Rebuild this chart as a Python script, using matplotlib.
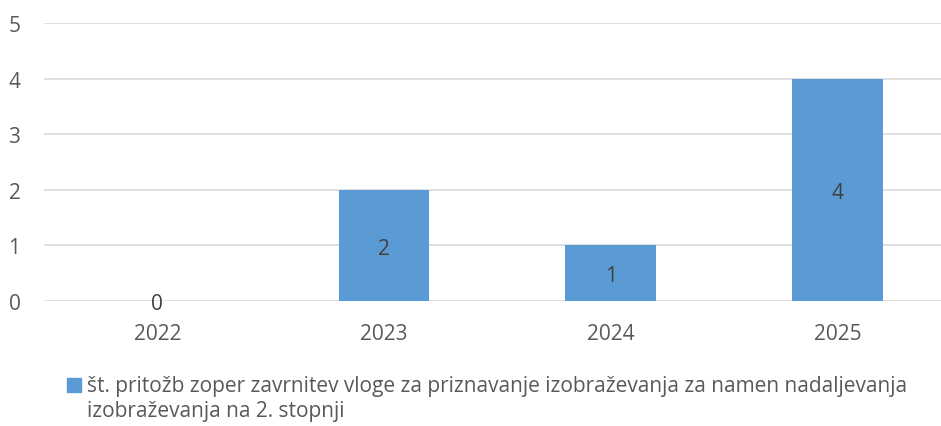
import matplotlib.pyplot as plt
from matplotlib.transforms import offset_copy

# podatki
leta = ['2022', '2023', '2024', '2025']
pritozbe = [0, 2, 1, 4]
legenda = ('št. pritožb zoper zavrnitev vloge za priznavanje izobraževanja za namen nadaljevanja\n'
           'izobraževanja na 2. stopnji')

barva = '#5B9BD5'
siva = '#595959'
plt.rcParams['font.family'] = ['Open Sans', 'DejaVu Sans']

fig = plt.figure(figsize=(9.41, 4.27), dpi=100)
ax = fig.add_axes([0.0468, 0.2927, 0.9635, 0.651])

x = range(len(leta))
ax.bar(x, pritozbe, width=0.4, color=barva, zorder=3)
# oznake malo nizje od sredine
tr = offset_copy(ax.transData, fig=fig, x=0, y=-2, units='points')
for i, v in zip(x, pritozbe):
    ax.text(i, v / 2, str(v), ha='center', va='center', fontsize=15, color='#404040',
            zorder=4, transform=tr)

ax.set_xlim(-0.5, len(leta) - 0.5)
ax.set_ylim(0, 5)
ax.set_yticks(range(6))
ax.set_xticks(list(x))
ax.set_xticklabels(leta)
ax.grid(axis='y', color='#D9D9D9', linewidth=1.2, zorder=0)
for s in ax.spines.values():
    s.set_visible(False)
ax.tick_params(length=0, labelsize=15, labelcolor=siva)
ax.tick_params(axis='y', pad=17)
ax.tick_params(axis='x', pad=16)

# legenda
fig.patches.append(plt.Rectangle((67 / 941, 1 - 393 / 427), 14 / 941, 14 / 427,
                                 transform=fig.transFigure, color=barva))
fig.text(87 / 941, 1 - 376 / 427, legenda, ha='left', va='top', fontsize=15,
         color=siva, linespacing=1.25)

plt.savefig('out.png', dpi=100)
